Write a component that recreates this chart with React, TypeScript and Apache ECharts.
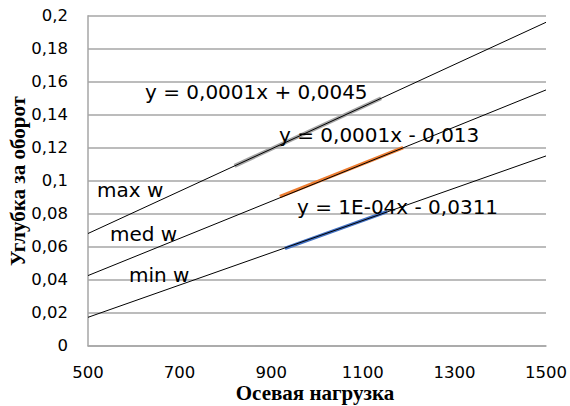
import React, { useEffect, useRef } from "react";
import * as echarts from "echarts";

// Measured data segments (x = осевая нагрузка, y = углубка за оборот)
const maxW: [number, number][] = [[820, 0.109], [1140, 0.150]];
const medW: [number, number][] = [[919, 0.0903], [1188, 0.120]];
const minW: [number, number][] = [[930, 0.059], [1153, 0.0812]];

// Trend lines at the axis ends
const maxTrend: [number, number][] = [[500, 0.068], [1500, 0.196]];
const medTrend: [number, number][] = [[500, 0.0425], [1500, 0.155]];
const minTrend: [number, number][] = [[500, 0.0172], [1500, 0.115]];

const yTickLabels = ["0", "0,02", "0,04", "0,06", "0,08", "0,1", "0,12", "0,14", "0,16", "0,18", "0,2"];
const xTickLabels = ["500", "700", "900", "1100", "1300", "1500"];
const xTitle = "Осевая нагрузка";
const yTitle = "Углубка за оборот";
const equations = ["y = 0,0001x + 0,0045", "y = 0,0001x - 0,013", "y = 1E-04x - 0,0311"];
const seriesNames = ["max w", "med w", "min w"];

export default function App() {
  const ref = useRef<HTMLDivElement>(null);
  useEffect(() => {
    document.body.style.margin = "0";
    const chart = echarts.init(ref.current!, null, { renderer: "svg" });
    const labelFont = "DejaVu Sans";
    const textStyle = (text: string, x: number, y: number) => ({
      type: "text",
      x,
      y,
      silent: true,
      z: 100,
      style: {
        text,
        fill: "#000",
        font: `20px '${labelFont}'`,
        textAlign: "left",
        textVerticalAlign: "middle",
      },
    });
    const titleStyle = (text: string, x: number, y: number, rotation: number) => ({
      type: "text",
      x,
      y,
      rotation,
      silent: true,
      z: 100,
      style: {
        text,
        fill: "#000",
        font: "bold 21px 'Liberation Serif'",
        textAlign: "center",
        textVerticalAlign: "middle",
      },
    });
    chart.setOption({
      animation: false,
      backgroundColor: "#fff",
      grid: { left: 88, right: 24, top: 15.7, bottom: 60.3, containLabel: false, outerBoundsMode: "none" },
      xAxis: {
        type: "value",
        min: 500,
        max: 1500,
        interval: 200,
        axisLine: { show: true, lineStyle: { color: "#a6a6a6", width: 1.5 } },
        axisTick: { show: false },
        splitLine: { show: false },
        axisLabel: {
          fontFamily: labelFont,
          fontSize: 16.5,
          color: "#000",
          margin: 18,
          formatter: (v: number) => xTickLabels[Math.round((v - 500) / 200)] ?? "",
        },
      },
      yAxis: {
        type: "value",
        min: 0,
        max: 0.2,
        interval: 0.02,
        axisLine: { show: true, lineStyle: { color: "#a6a6a6", width: 1.5 } },
        axisTick: { show: false },
        splitLine: { show: true, lineStyle: { color: "#a6a6a6", width: 1.5 } },
        axisLabel: {
          fontFamily: labelFont,
          fontSize: 16.5,
          color: "#000",
          margin: 20,
          formatter: (v: number) => yTickLabels[Math.round(v / 0.02)] ?? "",
        },
      },
      series: [
        { name: seriesNames[0], type: "line", data: maxW, symbol: "none", lineStyle: { color: "#a5a5a5", width: 4 }, z: 2 },
        { name: seriesNames[1], type: "line", data: medW, symbol: "none", lineStyle: { color: "#ed7d31", width: 3.5 }, z: 2 },
        { name: seriesNames[2], type: "line", data: minW, symbol: "none", lineStyle: { color: "#4472c4", width: 3.5 }, z: 2 },
        { type: "line", data: maxTrend, symbol: "none", silent: true, lineStyle: { color: "#000", width: 1 }, z: 3 },
        { type: "line", data: medTrend, symbol: "none", silent: true, lineStyle: { color: "#000", width: 1 }, z: 3 },
        { type: "line", data: minTrend, symbol: "none", silent: true, lineStyle: { color: "#000", width: 1 }, z: 3 },
      ],
      graphic: [
        textStyle(equations[0], 145, 92),
        textStyle(equations[1], 279, 135),
        textStyle(equations[2], 297, 206.5),
        textStyle(seriesNames[0], 97, 189.5),
        textStyle(seriesNames[1], 110, 233.5),
        textStyle(seriesNames[2], 129, 275),
        titleStyle(xTitle, 315, 393, 0),
        titleStyle(yTitle, 18, 181, Math.PI / 2),
      ],
    });
    return () => chart.dispose();
  }, []);
  return <div ref={ref} style={{ width: 570, height: 406 }} />;
}
